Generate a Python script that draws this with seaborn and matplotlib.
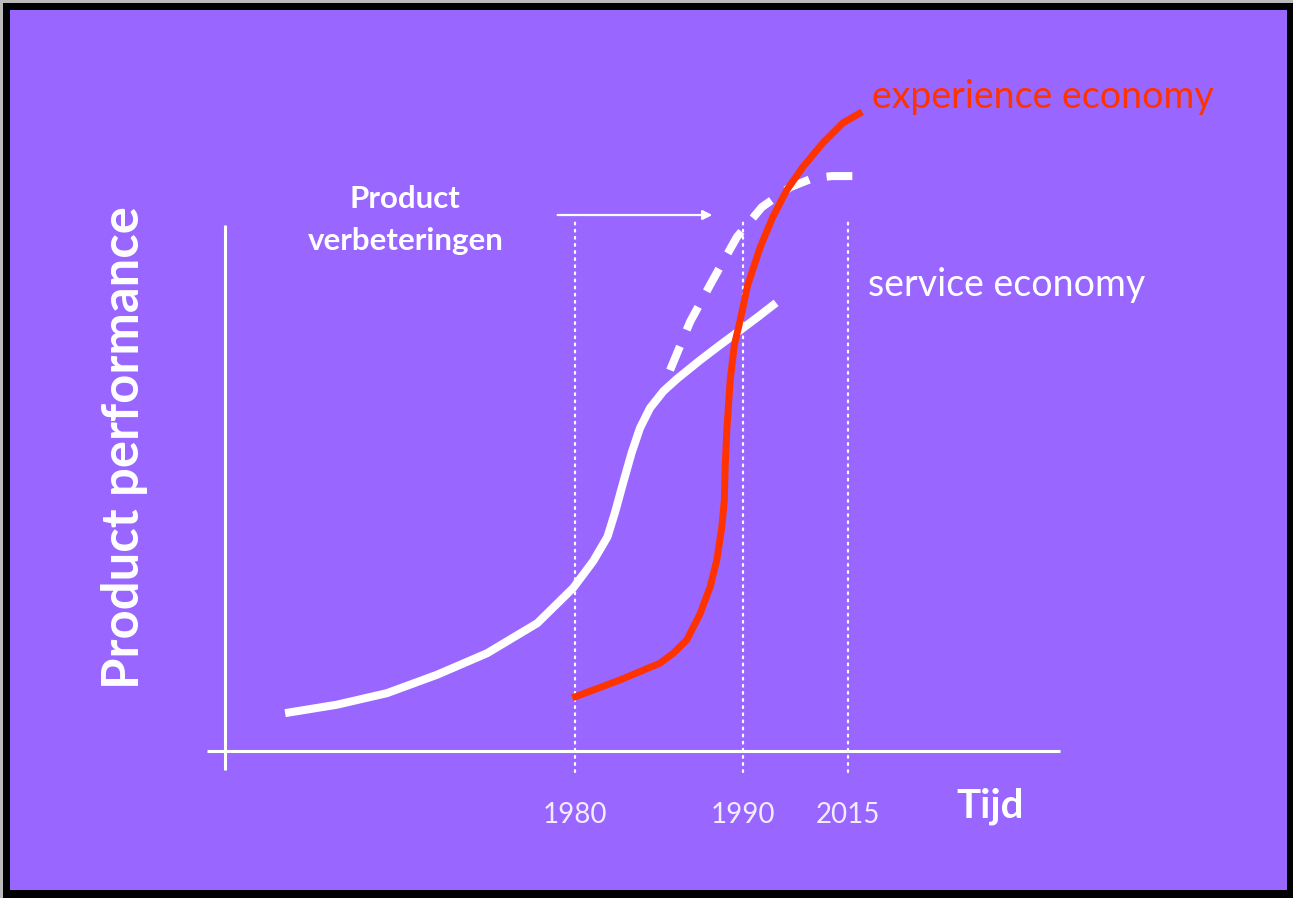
import matplotlib
matplotlib.use("Agg")
import matplotlib.pyplot as plt
from matplotlib.patches import Rectangle
import seaborn as sns
import pandas as pd

# ---- data (conceptual units: time 0-100, performance 0-100) ----
service_t = [7.2, 13.4, 19.4, 25.4, 31.4, 37.4, 41.7, 44.1, 45.8, 46.7, 47.7, 48.7, 49.7, 50.9,
             52.5, 54.1, 56.9, 59.3, 61.7, 63.8, 66.0]
service_p = [7.2, 8.8, 11.0, 14.5, 18.6, 24.3, 31.0, 36.1, 40.7, 45.3, 51.1, 56.7, 61.4, 65.2,
             68.4, 70.7, 74.3, 77.2, 80.0, 82.5, 85.2]

experience_t = [41.6, 47.3, 52.1, 53.7, 55.3, 56.9, 58.1, 58.9, 59.5, 59.8, 59.9, 60.1, 60.5, 61.0,
                61.7, 62.6, 64.1, 65.6, 67.3, 69.2, 71.6, 74.0, 76.3]
experience_p = [10.1, 13.5, 16.7, 18.6, 21.1, 26.1, 31.2, 36.3, 42.6, 47.7, 54.0, 61.0, 70.5, 77.2,
                81.9, 88.6, 95.8, 101.5, 106.7, 111.0, 115.6, 119.4, 121.5]

improved_t = [53.3, 55.7, 58.3, 61.3, 64.3, 67.7, 70.4, 72.7, 75.8]
improved_p = [72.4, 81.6, 89.2, 97.7, 103.4, 107.2, 108.9, 109.3, 109.3]

tick_pos = [41.9, 62.0, 74.6]
tick_labels = ["1980", "1990", "2015"]

BG = "#9966FF"
RED = "#FF3300"
WHITE = "#FFFFFF"
FONT = "Lato"

sns.set_theme(style="white")
plt.rcParams["font.family"] = [FONT, "DejaVu Sans"]

fig = plt.figure(figsize=(12.93, 8.98), dpi=100)
fig.patch.set_facecolor("#BBBBBB")
fig.patches.append(Rectangle((3 / 1293, 0), 1290 / 1293, 895 / 898, transform=fig.transFigure,
                             facecolor="black", edgecolor="none", zorder=-20))
fig.patches.append(Rectangle((10 / 1293, 8 / 898), 1277 / 1293, 880 / 898, transform=fig.transFigure,
                             facecolor=BG, edgecolor="none", zorder=-10))

ax = fig.add_axes([225 / 1293, (898 - 751) / 898, 835 / 1293, 526 / 898])
ax.set_facecolor("none")
ax.set_xlim(0, 100)
ax.set_ylim(0, 100)
for s in ax.spines.values():
    s.set_visible(False)
ax.set_yticks([])
ax.set_xticks(tick_pos, labels=tick_labels)
ax.tick_params(axis="x", length=0, pad=37, labelsize=20, labelcolor="#F2ECFF")

# axis lines
ax.plot([-2.2, 100], [0, 0], color=WHITE, lw=2.2, clip_on=False, solid_capstyle="butt")
ax.plot([0, 0], [-3.6, 100], color=WHITE, lw=2.2, clip_on=False, solid_capstyle="butt")

# dotted guide lines
for x in tick_pos:
    ax.plot([x, x], [-4.0, 101.0], color=WHITE, lw=1.6, linestyle=(0, (0.8, 2.4)),
            dash_capstyle="round", clip_on=False)

df_s = pd.DataFrame({"t": service_t, "p": service_p})
df_e = pd.DataFrame({"t": experience_t, "p": experience_p})
df_i = pd.DataFrame({"t": improved_t, "p": improved_p})

sns.lineplot(data=df_s, x="t", y="p", ax=ax, sort=False, estimator=None, color=WHITE, lw=5.8,
             clip_on=False, solid_capstyle="butt", solid_joinstyle="round")
l = sns.lineplot(data=df_i, x="t", y="p", ax=ax, sort=False, estimator=None, color=WHITE, lw=5.8,
                 clip_on=False)
l.lines[-1].set_linestyle((0, (3.2, 2.2)))
l.lines[-1].set_dash_capstyle("butt")
sns.lineplot(data=df_e, x="t", y="p", ax=ax, sort=False, estimator=None, color=RED, lw=5.0,
             clip_on=False, solid_capstyle="butt", solid_joinstyle="round")
ax.set_xlabel("")
ax.set_ylabel("")

# arrow
ax.annotate("", xy=(58.7, 101.9), xytext=(39.5, 101.9),
            arrowprops=dict(arrowstyle="-|>", color=WHITE, lw=1.6, mutation_scale=14),
            annotation_clip=False)

# texts
ax.text(21.6, 100.9, "Product\nverbeteringen", ha="center", va="center", color=WHITE,
        fontsize=22.5, fontweight="bold", linespacing=1.62, clip_on=False)
ax.text(-12.0, 57.6, "Product performance", ha="center", va="center", rotation=90,
        color=WHITE, fontsize=36.5, fontweight="bold", clip_on=False)
ax.text(91.6, -10.5, "Tijd", ha="center", va="center", color=WHITE, fontsize=29,
        fontweight="bold", clip_on=False)
ax.text(77.5, 124.3, "experience economy", ha="left", va="center", color=RED, fontsize=27,
        clip_on=False)
ax.text(77.0, 88.6, "service economy", ha="left", va="center", color=WHITE, fontsize=27,
        clip_on=False)

fig.savefig("out.png", dpi=100, facecolor=fig.get_facecolor())
